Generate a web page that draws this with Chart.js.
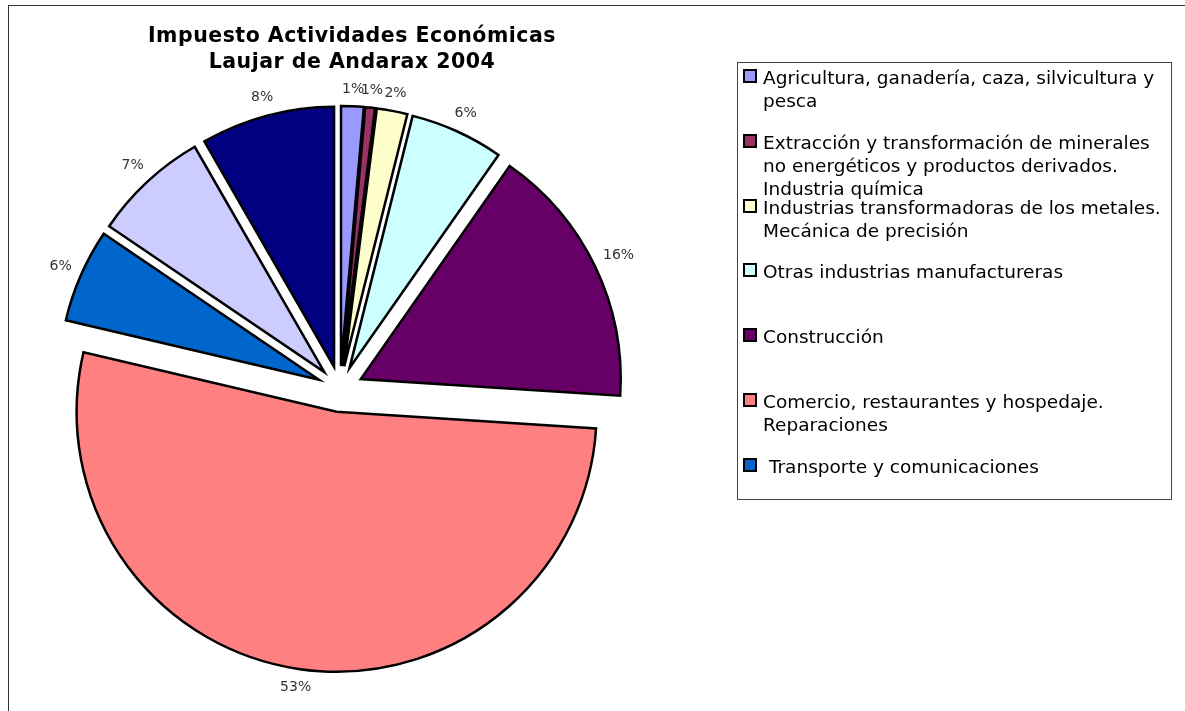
<!DOCTYPE html>
<html lang="es">
<head>
  <meta charset="UTF-8" />
  <title>Impuesto Actividades Económicas - Laujar de Andarax 2004</title>
  <script src="https://cdn.jsdelivr.net/npm/chart.js"></script>
  <style>
    html, body {
      margin: 0;
      padding: 0;
      background: #fff;
    }
    body {
      width: 1185px;
      height: 711px;
      overflow: hidden;
      position: relative;
      font-family: "DejaVu Sans", Verdana, sans-serif;
      color: #000;
    }
    .frame {
      position: absolute;
      left: 8px;
      top: 5px;
      width: 1200px;
      height: 720px;
      border-left: 1px solid #333;
      border-top: 1px solid #333;
    }
    #pie {
      position: absolute;
      left: 0;
      top: 0;
    }
    .title {
      position: absolute;
      left: 142px;
      top: 22px;
      width: 420px;
      text-align: center;
      font-weight: bold;
      font-size: 20.5px;
      line-height: 26px;
      letter-spacing: 0.5px;
    }
    .legend {
      position: absolute;
      left: 737px;
      top: 62px;
      width: 433px;
      height: 436px;
      border: 1px solid #444;
      overflow: hidden;
    }
    .legend-inner {
      position: absolute;
      left: 0;
      top: 3px;
    }
    .item {
      position: relative;
      height: 64.8px;
    }
    .swatch {
      position: absolute;
      left: 5px;
      top: 3px;
      width: 10px;
      height: 10px;
      border: 2px solid #000;
    }
    .text {
      position: absolute;
      left: 25px;
      top: 0;
      width: 408px;
      font-size: 18.5px;
      line-height: 23px;
      white-space: pre-wrap;
    }
  </style>
</head>
<body>
  <div class="frame"></div>
  <canvas id="pie" width="1185" height="711"></canvas>
  <div class="title">Impuesto Actividades Económicas<br>Laujar de Andarax 2004</div>
  <div class="legend"><div class="legend-inner" id="legend"></div></div>
  <script>
    // categories (IAE divisions), clockwise from 12 o'clock
    const categories = [
      "Agricultura, ganadería, caza, silvicultura y pesca",
      "Extracción y transformación de minerales no energéticos y productos derivados. Industria química",
      "Industrias transformadoras de los metales. Mecánica de precisión",
      "Otras industrias manufactureras",
      "Construcción",
      "Comercio, restaurantes y hospedaje. Reparaciones",
      " Transporte y comunicaciones",
      "Instituciones financieras, seguros, servicios prestados a las empresas y alquileres",
      "Otros servicios"
    ];
    // share of the tax, %
    const values = [1.4, 0.6, 1.9, 5.8, 16.3, 52.6, 5.8, 7.2, 8.3];
    const colors = ["#9999FF", "#993366", "#FFFFCC", "#CCFFFF", "#660066", "#FF8080", "#0066CC", "#CCCCFF", "#000080"];

    const EXPLODE = 23;

    // pull every slice out from the centre along its bisector
    const explode = {
      id: "explode",
      afterDatasetUpdate(chart, args) {
        args.meta.data.forEach(arc => {
          const mid = (arc.startAngle + arc.endAngle) / 2;
          arc.x += Math.cos(mid) * EXPLODE;
          arc.y += Math.sin(mid) * EXPLODE;
        });
      }
    };

    // percentage labels just outside each slice
    const sliceLabels = {
      id: "sliceLabels",
      afterDatasetsDraw(chart) {
        const ctx = chart.ctx;
        const meta = chart.getDatasetMeta(0);
        const total = values.reduce((a, b) => a + b, 0);
        ctx.save();
        ctx.font = '14px "DejaVu Sans"';
        ctx.fillStyle = "#333";
        ctx.textAlign = "center";
        ctx.textBaseline = "middle";
        meta.data.forEach((arc, i) => {
          const text = Math.round(values[i] / total * 100) + "%";
          const mid = (arc.startAngle + arc.endAngle) / 2;
          const c = Math.cos(mid), s = Math.sin(mid);
          const hw = ctx.measureText(text).width / 2;
          const d = arc.outerRadius + 9 + Math.abs(c) * hw + Math.abs(s) * 7;
          ctx.fillText(text, arc.x + c * d, arc.y + s * d);
        });
        ctx.restore();
      }
    };

    new Chart(document.getElementById("pie"), {
      type: "pie",
      data: {
        labels: categories,
        datasets: [{
          data: values,
          backgroundColor: colors,
          borderColor: "#000",
          borderWidth: 2.5,
          borderJoinStyle: "miter"
        }]
      },
      options: {
        responsive: false,
        animation: false,
        devicePixelRatio: 1,
        radius: 260,
        layout: { padding: { left: 40, right: 545, top: 89, bottom: 22 } },
        plugins: {
          legend: { display: false },
          tooltip: { enabled: false }
        }
      },
      plugins: [explode, sliceLabels]
    });

    // legend box (Excel cuts it off after the 7th entry)
    const legend = document.getElementById("legend");
    categories.forEach((name, i) => {
      const item = document.createElement("div");
      item.className = "item";
      const sw = document.createElement("div");
      sw.className = "swatch";
      sw.style.background = colors[i];
      const tx = document.createElement("div");
      tx.className = "text";
      tx.textContent = name;
      item.appendChild(sw);
      item.appendChild(tx);
      legend.appendChild(item);
    });
  </script>
</body>
</html>
